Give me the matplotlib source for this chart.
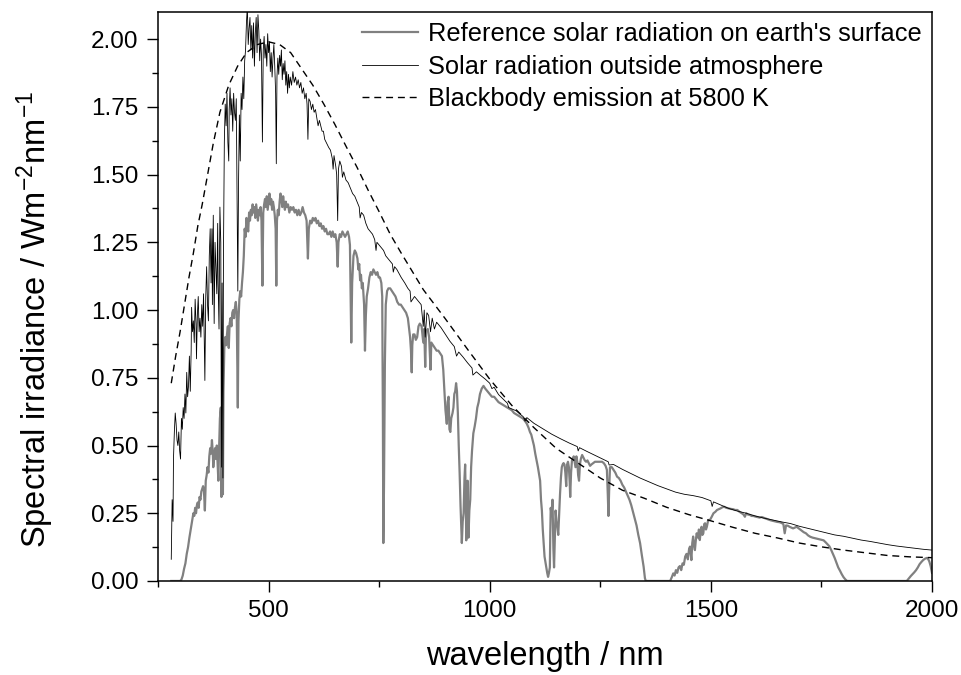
import matplotlib.pyplot as plt
from matplotlib.ticker import MultipleLocator

plt.rcParams['font.family'] = ['Liberation Sans', 'DejaVu Sans']
plt.rcParams['mathtext.default'] = 'regular'

# Solar spectrum at the earth's surface (AM1.5), W m-2 nm-1
surface_nm = [
    280, 295, 300, 303, 306, 309, 312, 315, 318, 321, 324, 326, 328, 330, 332, 334, 336, 338, 340, 342,
    344, 346, 348, 350, 352, 354, 356, 358, 360, 362, 364, 366, 368, 370, 372, 374, 375, 377, 379, 381,
    383, 385, 386.5, 388, 390, 392, 393.4, 395, 396.8, 398, 400, 402, 404, 406, 408, 410, 412, 414, 416, 418,
    420, 422, 424, 426, 428, 430.5, 432, 434, 436, 438, 440, 442, 444, 446, 448, 450, 452, 454, 456, 458,
    460, 462, 464, 466, 468, 470, 472, 474, 476, 478, 480, 482, 484, 486.1, 488, 490, 492, 494, 496, 498,
    500, 502, 504, 506, 508, 510, 512, 514, 516, 517.5, 519, 521, 523, 525, 527, 529, 531, 533, 535, 537,
    539, 541, 544, 547, 550, 553, 556, 559, 562, 565, 568, 571, 574, 577, 580, 583, 586, 589, 591, 594,
    597, 600, 603, 606, 609, 612, 615, 618, 621, 624, 627, 630, 633, 636, 639, 642, 645, 648, 651, 654,
    656.3, 658, 661, 664, 667, 670, 673, 676, 679, 682, 684, 687, 689, 692, 695, 698, 701, 703, 705, 707,
    709, 711, 713, 716, 718, 720, 722, 725, 728, 731, 734, 737, 740, 743, 746, 749, 752, 755, 757, 758.5,
    759.5, 761, 763, 765, 768, 771, 775, 779, 783, 787, 791, 795, 799, 803, 807, 811, 815, 818, 820, 822,
    823.7, 825, 827, 830, 833, 836, 839, 842, 846, 849.8, 852, 854.2, 856, 860, 863, 866.2, 868, 872, 876, 880,
    884, 888, 892, 895, 898, 900, 903, 905, 907, 909, 911, 913, 916, 918, 920, 922, 924, 926, 928, 930,
    932, 934, 936, 937, 939, 941, 943, 944.5, 946, 947, 949, 950, 951, 952, 954, 956, 958, 960, 963, 966,
    969, 972, 975, 978, 982, 986, 990, 995, 1000, 1005, 1010, 1015, 1020, 1025, 1030, 1035, 1040, 1045, 1050, 1055,
    1060, 1065, 1070, 1075, 1080, 1084, 1088, 1091, 1094, 1097, 1100, 1103, 1106, 1109, 1112, 1114, 1116, 1118, 1120, 1122,
    1124, 1126, 1128, 1130, 1132, 1134, 1136, 1137, 1138, 1140, 1142, 1144, 1145.5, 1147, 1149, 1151, 1153, 1155, 1157, 1159,
    1161, 1163, 1165, 1167, 1169, 1171, 1173, 1175, 1177, 1179, 1181, 1182, 1184, 1186, 1188, 1190, 1192, 1194, 1196, 1198,
    1200, 1202, 1204, 1206, 1209, 1212, 1215, 1218, 1221, 1224, 1227, 1230, 1234, 1238, 1242, 1246, 1250, 1254, 1258, 1262,
    1265, 1267, 1268.5, 1270, 1272, 1276, 1280, 1284, 1288, 1292, 1296, 1300, 1304, 1308, 1312, 1316, 1320, 1324, 1328, 1332,
    1336, 1340, 1344, 1348, 1351, 1353, 1408, 1412, 1415, 1418, 1421, 1424, 1427, 1430, 1433, 1436, 1439, 1442, 1445, 1448,
    1451, 1453, 1456, 1458, 1460, 1462, 1464, 1466, 1468, 1471, 1473, 1475, 1477, 1479, 1481, 1483, 1485, 1487, 1489, 1491,
    1494, 1498, 1502, 1506, 1510, 1514, 1518, 1522, 1526, 1530, 1535, 1540, 1545, 1550, 1555, 1560, 1565, 1570, 1574, 1577,
    1580, 1584, 1588, 1592, 1596, 1600, 1605, 1610, 1615, 1620, 1625, 1630, 1635, 1640, 1645, 1650, 1655, 1660, 1664, 1667,
    1670, 1674, 1678, 1682, 1686, 1690, 1694, 1698, 1702, 1706, 1710, 1715, 1720, 1725, 1730, 1735, 1740, 1745, 1750, 1755,
    1760, 1764, 1768, 1772, 1776, 1780, 1784, 1788, 1792, 1796, 1800, 1804, 1808, 1943, 1948, 1952, 1956, 1960, 1964, 1968,
    1972, 1976, 1980, 1984, 1988, 1991, 1994, 1997, 2000,
]
surface_irr = [
    0.0, 0.0, 0.0, 0.005, 0.02, 0.045, 0.065, 0.10, 0.125, 0.16, 0.19, 0.21, 0.23, 0.25, 0.24, 0.27, 0.25, 0.28, 0.29, 0.27,
    0.31, 0.30, 0.33, 0.34, 0.35, 0.33, 0.26, 0.37, 0.39, 0.42, 0.40, 0.46, 0.49, 0.47, 0.52, 0.47, 0.42, 0.46, 0.49, 0.45,
    0.50, 0.43, 0.37, 0.48, 0.60, 0.64, 0.31, 0.55, 0.32, 0.70, 0.86, 0.90, 0.87, 0.91, 0.94, 0.86, 0.95, 0.97, 0.94, 0.99,
    1.00, 0.97, 1.01, 1.03, 0.99, 0.64, 0.96, 1.04, 1.07, 1.05, 1.10, 1.14, 1.20, 1.30, 1.27, 1.34, 1.31, 1.29, 1.36, 1.33,
    1.37, 1.35, 1.39, 1.36, 1.38, 1.34, 1.39, 1.36, 1.33, 1.37, 1.35, 1.38, 1.33, 1.09, 1.36, 1.39, 1.41, 1.38, 1.42, 1.37,
    1.40, 1.43, 1.39, 1.41, 1.37, 1.40, 1.38, 1.35, 1.30, 1.09, 1.33, 1.37, 1.35, 1.40, 1.43, 1.41, 1.38, 1.42, 1.39, 1.37,
    1.40, 1.38, 1.39, 1.36, 1.38, 1.37, 1.38, 1.36, 1.37, 1.35, 1.37, 1.35, 1.36, 1.38, 1.36, 1.35, 1.33, 1.19, 1.30, 1.33,
    1.32, 1.34, 1.33, 1.34, 1.32, 1.33, 1.31, 1.32, 1.30, 1.31, 1.29, 1.30, 1.28, 1.28, 1.29, 1.27, 1.29, 1.27, 1.28, 1.25,
    1.16, 1.25, 1.28, 1.27, 1.29, 1.28, 1.27, 1.28, 1.29, 1.27, 1.24, 0.88, 1.10, 1.20, 1.22, 1.21, 1.19, 1.15, 1.17, 1.11,
    1.13, 1.08, 1.10, 1.02, 0.85, 0.98, 1.05, 1.08, 1.12, 1.14, 1.13, 1.15, 1.14, 1.13, 1.14, 1.12, 1.12, 1.10, 1.05, 0.60,
    0.14, 0.35, 0.80, 1.02, 1.07, 1.08, 1.08, 1.07, 1.06, 1.05, 1.03, 1.02, 1.02, 1.01, 1.00, 0.99, 0.97, 0.93, 0.90, 0.85,
    0.77, 0.87, 0.91, 0.91, 0.89, 0.90, 0.94, 0.95, 0.94, 0.88, 0.93, 0.79, 0.92, 0.93, 0.90, 0.78, 0.88, 0.87, 0.86, 0.85,
    0.85, 0.84, 0.83, 0.78, 0.69, 0.63, 0.58, 0.66, 0.68, 0.56, 0.55, 0.60, 0.62, 0.64, 0.69, 0.70, 0.73, 0.70, 0.62, 0.50,
    0.40, 0.28, 0.18, 0.14, 0.22, 0.25, 0.38, 0.43, 0.28, 0.15, 0.30, 0.37, 0.25, 0.16, 0.26, 0.30, 0.42, 0.48, 0.545, 0.57,
    0.60, 0.64, 0.66, 0.69, 0.71, 0.72, 0.71, 0.70, 0.69, 0.68, 0.68, 0.67, 0.66, 0.655, 0.65, 0.645, 0.64, 0.635, 0.63, 0.62,
    0.615, 0.61, 0.605, 0.60, 0.59, 0.58, 0.565, 0.55, 0.54, 0.52, 0.50, 0.47, 0.445, 0.42, 0.39, 0.37, 0.30, 0.26, 0.19, 0.14,
    0.09, 0.07, 0.05, 0.03, 0.015, 0.03, 0.05, 0.18, 0.27, 0.24, 0.30, 0.12, 0.05, 0.14, 0.26, 0.22, 0.20, 0.17, 0.25, 0.32,
    0.38, 0.42, 0.43, 0.435, 0.43, 0.40, 0.35, 0.43, 0.44, 0.42, 0.36, 0.31, 0.40, 0.445, 0.45, 0.46, 0.44, 0.42, 0.46, 0.44,
    0.39, 0.37, 0.43, 0.45, 0.465, 0.455, 0.445, 0.44, 0.445, 0.435, 0.425, 0.43, 0.435, 0.44, 0.44, 0.44, 0.44, 0.44, 0.435, 0.425,
    0.41, 0.32, 0.24, 0.33, 0.42, 0.42, 0.41, 0.40, 0.385, 0.38, 0.37, 0.355, 0.345, 0.33, 0.315, 0.30, 0.28, 0.255, 0.23, 0.205,
    0.17, 0.14, 0.095, 0.053, 0.01, 0.0, 0.0, 0.015, 0.028, 0.02, 0.04, 0.03, 0.05, 0.055, 0.04, 0.065, 0.06, 0.09, 0.10, 0.08,
    0.12, 0.127, 0.077, 0.14, 0.164, 0.13, 0.114, 0.15, 0.176, 0.16, 0.19, 0.151, 0.18, 0.20, 0.17, 0.176, 0.21, 0.213, 0.19, 0.20,
    0.225, 0.225, 0.237, 0.25, 0.255, 0.262, 0.265, 0.268, 0.272, 0.274, 0.27, 0.268, 0.266, 0.265, 0.262, 0.262, 0.255, 0.25, 0.245, 0.237,
    0.25, 0.245, 0.244, 0.24, 0.24, 0.238, 0.236, 0.234, 0.236, 0.233, 0.23, 0.227, 0.224, 0.222, 0.22, 0.218, 0.217, 0.214, 0.21, 0.176,
    0.205, 0.204, 0.20, 0.197, 0.194, 0.197, 0.20, 0.195, 0.19, 0.185, 0.18, 0.176, 0.168, 0.163, 0.16, 0.158, 0.156, 0.154, 0.152, 0.15,
    0.142, 0.135, 0.128, 0.115, 0.10, 0.085, 0.068, 0.05, 0.038, 0.025, 0.014, 0.006, 0.0, 0.0, 0.01, 0.018, 0.025, 0.032, 0.04, 0.05,
    0.062, 0.07, 0.077, 0.082, 0.085, 0.082, 0.072, 0.055, 0.03,
]

# Extraterrestrial solar spectrum (AM0), W m-2 nm-1
am0_nm = [
    280, 282, 284, 285, 287, 289, 291, 293, 295, 297, 299, 301, 303, 305, 307, 309, 311, 313, 315, 317,
    319, 321, 323, 325, 326, 328, 330, 332, 334, 336, 337, 339, 341, 343, 345, 347, 349, 351, 353, 355,
    356, 358, 360, 362, 364, 366, 368, 370, 372, 373, 375, 377, 379, 381, 383, 385, 386, 388, 390, 392,
    393.4, 395, 396.8, 398, 400, 402, 404, 406, 408, 410, 411, 413, 415, 417, 419, 421, 423, 425, 427, 429,
    430.5, 432, 434, 436, 438, 440, 442, 444, 446, 448, 450, 452, 454, 456, 458, 460, 462, 464, 466, 468,
    470, 472, 474, 476, 478, 480, 482, 484, 486.1, 488, 490, 492, 494, 496, 498, 500, 502, 504, 506, 508,
    510, 512, 514, 516, 517.5, 519, 521, 523, 525, 527, 529, 531, 533, 535, 537, 539, 541, 543, 545, 547,
    549, 552, 555, 558, 561, 564, 567, 570, 573, 576, 579, 582, 585, 587, 589, 591, 594, 597, 600, 603,
    606, 609, 612, 615, 618, 621, 624, 627, 630, 633, 636, 640, 644, 646, 648, 652, 654, 656.3, 658, 661,
    665, 667, 670, 675, 680, 685, 690, 695, 700, 705, 707, 710, 715, 720, 725, 730, 735, 740, 743, 745,
    750, 755, 760, 765, 770, 775, 780, 782, 785, 790, 795, 800, 808, 815, 820, 822, 830, 840, 845, 849.8,
    852, 854.2, 858, 862, 866.2, 870, 875, 880, 890, 900, 910, 920, 925, 930, 940, 950, 960, 962, 970, 980,
    990, 1000, 1005, 1010, 1020, 1040, 1043, 1060, 1076, 1080, 1084, 1100, 1120, 1140, 1160, 1180, 1198, 1200, 1203, 1220,
    1240, 1260, 1268, 1270, 1280, 1300, 1320, 1340, 1360, 1380, 1400, 1420, 1440, 1460, 1480, 1500, 1503, 1506, 1520, 1540,
    1560, 1580, 1600, 1620, 1640, 1660, 1680, 1700, 1720, 1740, 1760, 1780, 1800, 1820, 1840, 1860, 1880, 1900, 1920, 1940,
    1960, 1980, 2000,
]
am0_irr = [
    0.08, 0.30, 0.22, 0.45, 0.55, 0.62, 0.58, 0.52, 0.50, 0.55, 0.48, 0.45, 0.60, 0.56, 0.64, 0.60, 0.69, 0.62, 0.77, 0.68,
    0.72, 0.83, 0.70, 0.85, 1.01, 0.92, 0.96, 0.88, 1.04, 0.95, 0.82, 0.98, 1.05, 0.92, 0.97, 0.90, 1.02, 0.94, 1.06, 0.86,
    0.74, 1.05, 1.16, 1.02, 0.96, 1.20, 1.30, 1.10, 1.30, 1.02, 1.35, 0.95, 1.25, 1.16, 1.06, 1.32, 1.10, 0.93, 1.38, 1.25,
    0.42, 1.10, 0.38, 1.20, 1.62, 1.76, 1.68, 1.80, 1.62, 1.55, 1.74, 1.82, 1.72, 1.78, 1.66, 1.80, 1.73, 1.70, 1.78, 1.40,
    1.07, 1.45, 1.72, 1.55, 1.80, 1.74, 1.86, 1.78, 1.92, 1.96, 2.06, 2.12, 1.98, 2.04, 2.08, 1.96, 2.05, 1.93, 2.06, 1.90,
    2.02, 2.08, 1.95, 2.09, 2.03, 1.92, 2.00, 1.94, 1.62, 1.96, 2.01, 1.93, 1.98, 1.90, 2.02, 1.95, 1.99, 1.88, 1.95, 1.86,
    1.93, 1.98, 1.90, 1.80, 1.54, 1.86, 1.93, 1.87, 1.94, 1.90, 1.96, 1.85, 1.91, 1.87, 1.92, 1.83, 1.88, 1.80, 1.87, 1.82,
    1.86, 1.83, 1.88, 1.84, 1.86, 1.83, 1.85, 1.82, 1.84, 1.80, 1.82, 1.78, 1.80, 1.76, 1.63, 1.78, 1.77, 1.74, 1.76, 1.73,
    1.74, 1.71, 1.68, 1.70, 1.68, 1.66, 1.66, 1.63, 1.62, 1.61, 1.60, 1.59, 1.56, 1.52, 1.57, 1.53, 1.50, 1.33, 1.52, 1.55,
    1.53, 1.49, 1.51, 1.48, 1.47, 1.45, 1.43, 1.42, 1.40, 1.38, 1.34, 1.36, 1.35, 1.32, 1.30, 1.29, 1.28, 1.26, 1.22, 1.25,
    1.24, 1.23, 1.22, 1.20, 1.19, 1.18, 1.17, 1.14, 1.16, 1.15, 1.135, 1.12, 1.10, 1.08, 1.07, 1.03, 1.05, 1.03, 1.02, 0.94,
    1.00, 0.90, 0.99, 0.98, 0.92, 0.97, 0.93, 0.955, 0.935, 0.91, 0.885, 0.865, 0.83, 0.845, 0.826, 0.805, 0.786, 0.76, 0.772, 0.758,
    0.745, 0.73, 0.71, 0.715, 0.688, 0.656, 0.64, 0.628, 0.606, 0.59, 0.603, 0.582, 0.562, 0.542, 0.525, 0.509, 0.496, 0.48, 0.492, 0.478,
    0.462, 0.446, 0.44, 0.428, 0.43, 0.412, 0.396, 0.38, 0.366, 0.352, 0.340, 0.328, 0.32, 0.315, 0.308, 0.296, 0.275, 0.292, 0.282, 0.268,
    0.258, 0.25, 0.24, 0.232, 0.225, 0.218, 0.212, 0.202, 0.194, 0.186, 0.178, 0.17, 0.165, 0.158, 0.151, 0.146, 0.14, 0.134, 0.129, 0.125,
    0.121, 0.117, 0.114,
]

# Blackbody emission at 5800 K, scaled to the solar spectrum
bb_nm = [
    280, 290, 300, 310, 320, 330, 340, 350, 360, 375, 390, 410, 430, 450, 475, 500, 525, 550, 575, 600,
    625, 650, 675, 700, 725, 750, 775, 800, 850, 900, 950, 1000, 1050, 1100, 1150, 1200, 1250, 1300, 1350, 1400,
    1450, 1500, 1550, 1600, 1650, 1700, 1750, 1800, 1850, 1900, 1950, 2000,
]
bb_irr = [
    0.73, 0.83, 0.92, 1.02, 1.12, 1.21, 1.31, 1.39, 1.48, 1.615, 1.73, 1.83, 1.90, 1.95, 1.98, 1.99, 1.98, 1.95, 1.89, 1.83,
    1.76, 1.685, 1.605, 1.527, 1.443, 1.363, 1.28, 1.21, 1.075, 0.967, 0.855, 0.745, 0.648, 0.566, 0.49, 0.435, 0.38, 0.335, 0.305, 0.272,
    0.245, 0.222, 0.198, 0.176, 0.159, 0.14, 0.126, 0.114, 0.104, 0.094, 0.089, 0.086,
]

fig = plt.figure(figsize=(9.61, 6.75), dpi=100)
ax = fig.add_axes([0.1644, 0.1393, 0.8054, 0.8429])

ax.plot(surface_nm, surface_irr, color='#808080', lw=1.6,
        label="Reference solar radiation on earth's surface")
ax.plot(am0_nm, am0_irr, color='black', lw=0.6,
        label='Solar radiation outside atmosphere')
ax.plot(bb_nm, bb_irr, color='black', lw=1.0, ls=(0, (5, 3.5)),
        label='Blackbody emission at 5800 K')

ax.set_xlim(250, 2000)
ax.set_ylim(0, 2.1)
ax.xaxis.set_major_locator(MultipleLocator(500))
ax.xaxis.set_minor_locator(MultipleLocator(250))
ax.yaxis.set_major_locator(MultipleLocator(0.25))
ax.yaxis.set_minor_locator(MultipleLocator(0.125))
ax.yaxis.set_major_formatter('{x:.2f}')

for side in ax.spines.values():
    side.set_linewidth(1.1)
ax.tick_params(which='major', length=8, width=1.0, labelsize=17.5, pad=6)
ax.tick_params(which='minor', length=4, width=1.0)

ax.set_xlabel('wavelength / nm', fontsize=23.5)
ax.set_ylabel('Spectral irradiance / Wm$^{-2}$nm$^{-1}$', fontsize=23.5)
ax.xaxis.set_label_coords(0.5, -0.106)
ax.yaxis.set_label_coords(-0.132, 0.46)

ax.legend(loc='upper right', bbox_to_anchor=(1.0, 1.0), frameon=False, fontsize=18.3,
          labelspacing=0.33, handlelength=2.2, handletextpad=0.4,
          borderpad=0.2, borderaxespad=0.2)

fig.savefig('out.png', dpi=100)
